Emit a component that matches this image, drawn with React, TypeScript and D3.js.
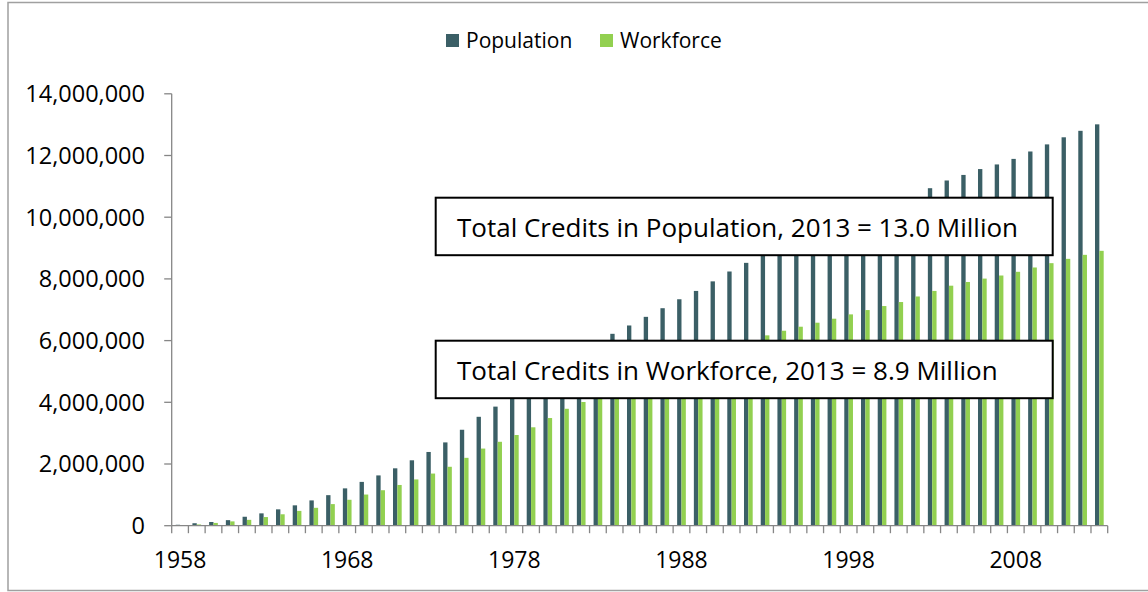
import React from "react";
import * as d3 from "d3";

const years: number[] = d3.range(1958, 2014);

const population: number[] = [
  30000, 80000, 120000, 180000, 290000, 400000, 530000, 660000, 820000, 990000,
  1210000, 1420000, 1630000, 1860000, 2120000, 2390000, 2700000, 3110000, 3530000, 3860000,
  4200000, 4550000, 4900000, 5250000, 5600000, 5930000, 6220000, 6490000, 6770000, 7050000,
  7340000, 7610000, 7920000, 8240000, 8520000, 8820000, 9080000, 9330000, 9560000, 9780000,
  9980000, 10160000, 10320000, 10460000, 10600000, 10940000, 11190000, 11370000, 11560000, 11710000,
  11890000, 12130000, 12360000, 12590000, 12800000, 13010000,
];

const workforce: number[] = [
  10000, 40000, 90000, 140000, 190000, 280000, 370000, 480000, 580000, 700000,
  840000, 1010000, 1150000, 1320000, 1500000, 1690000, 1910000, 2200000, 2500000, 2720000,
  2940000, 3190000, 3490000, 3790000, 4010000, 4250000, 4480000, 4690000, 4890000, 5080000,
  5270000, 5450000, 5630000, 5810000, 6020000, 6170000, 6320000, 6450000, 6580000, 6710000,
  6850000, 6990000, 7120000, 7250000, 7430000, 7610000, 7780000, 7900000, 8010000, 8110000,
  8230000, 8370000, 8510000, 8650000, 8780000, 8910000,
];

const seriesNames: string[] = ["Population", "Workforce"];
const seriesColors: string[] = ["#3b5f66", "#92d050"];
const yTicks: number[] = [0, 2000000, 4000000, 6000000, 8000000, 10000000, 12000000, 14000000];
const xTickYears: number[] = [1958, 1968, 1978, 1988, 1998, 2008];
const annotations: string[] = [
  "Total Credits in Population, 2013 = 13.0 Million",
  "Total Credits in Workforce, 2013 = 8.9 Million",
];

const W = 1148;
const H = 592;
const FONT = "'Open Sans', sans-serif";

export default function App() {
  const left = 171.7;
  const right = 1107.7;
  const top = 93.8;
  const bottom = 525.7;

  const x = d3
    .scaleBand<number>()
    .domain(years)
    .range([left, right])
    .paddingInner(0.48)
    .paddingOuter(0.24);
  const step = x.step();
  const xs = d3
    .scaleBand<string>()
    .domain(seriesNames)
    .range([0, x.bandwidth()]);
  const y = d3.scaleLinear().domain([0, 14000000]).range([bottom, top]);
  const fmt = d3.format(",");
  const seriesData = [population, workforce];

  const catLeft = (i: number) => left + i * step;

  return (
    <svg
      width={W}
      height={H}
      style={{ position: "absolute", left: 0, top: 0, background: "#fff" }}
      fontFamily={FONT}
    >
      <rect x={8} y={2.5} width={1150} height={588} fill="#fff" stroke="#a0a0a0" strokeWidth={1.5} />

      {/* legend */}
      {seriesNames.map((s, i) => {
        const lx = i === 0 ? 446 : 600;
        return (
          <g key={s}>
            <rect x={lx} y={34} width={13} height={13} fill={seriesColors[i]} />
            <text x={lx + 20} y={48} fontSize={21} fill="#000">
              {s}
            </text>
          </g>
        );
      })}

      {/* bars */}
      {seriesData.map((arr, si) => (
        <g key={si} fill={seriesColors[si]}>
          {years.map((yr, i) => (
            <rect
              key={yr}
              x={(x(yr) as number) + (xs(seriesNames[si]) as number)}
              y={y(arr[i])}
              width={xs.bandwidth()}
              height={bottom - y(arr[i])}
            />
          ))}
        </g>
      ))}

      {/* y axis */}
      <line x1={left} x2={left} y1={top} y2={bottom} stroke="#868686" strokeWidth={1.3} />
      {yTicks.map((t) => (
        <g key={t}>
          <line x1={left - 7.5} x2={left} y1={y(t)} y2={y(t)} stroke="#868686" strokeWidth={1.3} />
          <text x={145} y={y(t)} dy="0.36em" textAnchor="end" fontSize={23.5} fill="#000">
            {fmt(t)}
          </text>
        </g>
      ))}

      {/* x axis */}
      <line x1={left} x2={right} y1={bottom} y2={bottom} stroke="#868686" strokeWidth={1.3} />
      {d3.range(years.length + 1).map((i) => (
        <line
          key={i}
          x1={catLeft(i)}
          x2={catLeft(i)}
          y1={bottom}
          y2={bottom + 7.5}
          stroke="#868686"
          strokeWidth={1.3}
        />
      ))}
      {xTickYears.map((yr) => (
        <text
          key={yr}
          x={(x(yr) as number) + x.bandwidth() / 2}
          y={568}
          textAnchor="middle"
          fontSize={23}
          fill="#000"
        >
          {yr}
        </text>
      ))}

      {/* annotation boxes */}
      {annotations.map((a, i) => {
        const by = i === 0 ? 197.7 : 340.7;
        return (
          <g key={a}>
            <rect x={435.7} y={by} width={617} height={57.5} fill="#fff" stroke="#000" strokeWidth={2} />
            <text x={457} y={by + 39} fontSize={26} fill="#000">
              {a}
            </text>
          </g>
        );
      })}
    </svg>
  );
}
